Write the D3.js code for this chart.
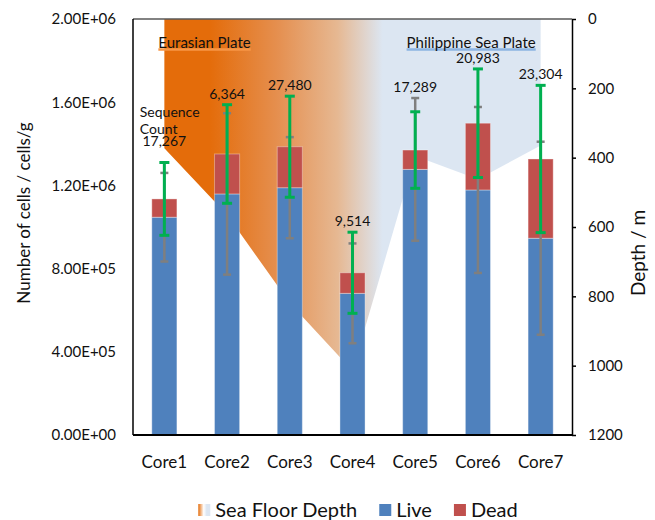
<!DOCTYPE html>
<html lang="en">
<head>
<meta charset="UTF-8">
<title>Cell counts and sea floor depth by core</title>
<script src="https://d3js.org/d3.v7.min.js"></script>
<style>
  body { margin: 0; background: #fff; font-family: Lato, "Open Sans", sans-serif; }
  text { fill: #111; }
</style>
</head>
<body>
<div id="chart"></div>
<script>
// values
const cores = ["Core1", "Core2", "Core3", "Core4", "Core5", "Core6", "Core7"];
const live = [1.047e6, 1.159e6, 1.189e6, 0.681e6, 1.277e6, 1.178e6, 0.946e6];
const dead = [0.088e6, 0.192e6, 0.197e6, 0.099e6, 0.093e6, 0.321e6, 0.381e6];
const liveErr = [213e3, 388e3, 243e3, 240e3, 343e3, 399e3, 464e3];   // grey bars, on live
const totalErr = [175e3, 237e3, 243e3, 195e3, 184e3, 261e3, 354e3];  // green bars, on live + dead
const seqCount = [17267, 6364, 27480, 9514, 17289, 20983, 23304];
const depth = [373, 565, 819, 1015, 395, 462, 365];                  // sea floor depth, m
const cellTicks = [0, 4e5, 8e5, 1.2e6, 1.6e6, 2e6];
const depthTicks = [0, 200, 400, 600, 800, 1000, 1200];

const width = 655, height = 520;
const margin = { top: 19, right: 83, bottom: 85, left: 133 };
const x0 = margin.left, x1 = width - margin.right, yTop = margin.top, yBot = height - margin.bottom;

const svg = d3.select("#chart").append("svg")
  .attr("width", width)
  .attr("height", height);

const defs = svg.append("defs");
const grad = defs.append("linearGradient").attr("id", "seaGrad");
grad.selectAll("stop")
  .data([[0, "#E46C0A"], [0.12, "#E46C0A"], [0.3, "#E58F4F"], [0.46, "#E6B892"], [0.58, "#DCE6F2"], [1, "#DCE6F2"]])
  .enter().append("stop")
  .attr("offset", d => d[0])
  .attr("stop-color", d => d[1]);

const x = d3.scaleBand().domain(cores).range([x0, x1]).paddingInner(0.6).paddingOuter(0.3);
const y = d3.scaleLinear().domain([0, 2e6]).range([yBot, yTop]);
const yDepth = d3.scaleLinear().domain([0, 1200]).range([yTop, yBot]);
const cx = c => x(c) + x.bandwidth() / 2;

const rows = cores.map((c, i) => ({
  core: c, live: live[i], dead: dead[i], total: live[i] + dead[i],
  liveErr: liveErr[i], totalErr: totalErr[i], seq: seqCount[i], depth: depth[i]
}));

// sea floor depth area (secondary axis, reversed)
const area = d3.area()
  .x(d => cx(d.core))
  .y0(yDepth(0))
  .y1(d => yDepth(d.depth));

svg.append("path")
  .datum(rows)
  .attr("d", area)
  .attr("fill", "url(#seaGrad)");

// plate labels
const plates = [
  { name: "Eurasian Plate", core: "Core1", color: "#F79646", anchor: "start" },
  { name: "Philippine Sea Plate", core: "Core7", color: "#8DB4E2", anchor: "end" }
];
plates.forEach(p => {
  const t = svg.append("text")
    .attr("x", p.anchor === "start" ? cx(p.core) - 6 : cx(p.core) - 5)
    .attr("y", 48)
    .attr("text-anchor", p.anchor)
    .style("font-size", "15px")
    .text(p.name);
  const b = t.node().getBBox();
  svg.insert("line", "text")
    .attr("x1", b.x).attr("x2", b.x + b.width)
    .attr("y1", 49.5).attr("y2", 49.5)
    .attr("stroke", p.color)
    .attr("stroke-width", 2.5);
});

// stacked bars
const bars = svg.append("g");
bars.selectAll(".live").data(rows).enter().append("rect")
  .attr("x", d => x(d.core))
  .attr("width", x.bandwidth())
  .attr("y", d => y(d.live))
  .attr("height", d => y(0) - y(d.live))
  .attr("fill", "#4F81BD");
bars.selectAll(".dead").data(rows).enter().append("rect")
  .attr("x", d => x(d.core))
  .attr("width", x.bandwidth())
  .attr("y", d => y(d.total))
  .attr("height", d => y(d.live) - y(d.total))
  .attr("fill", "#C0504D");
bars.selectAll("rect")
  .attr("stroke", "#fff")
  .attr("stroke-opacity", 0.35)
  .attr("stroke-width", 1);

// error bars
function errorBars(key, errKey, color, lw, cap) {
  const g = svg.append("g").attr("stroke", color);
  rows.forEach(d => {
    const hi = y(d[key] + d[errKey]), lo = y(d[key] - d[errKey]), c = cx(d.core);
    g.append("line").attr("x1", c).attr("x2", c).attr("y1", hi).attr("y2", lo).attr("stroke-width", lw);
    [hi, lo].forEach(v => g.append("line")
      .attr("x1", c - cap / 2).attr("x2", c + cap / 2)
      .attr("y1", v).attr("y2", v)
      .attr("stroke-width", lw));
  });
}
errorBars("live", "liveErr", "#7F7F7F", 2.5, 8);
errorBars("total", "totalErr", "#00B050", 3, 10);

// sequence count labels
const fmt = d3.format(",");
rows.forEach((d, i) => {
  const top = Math.min(y(d.total + d.totalErr), y(d.live + d.liveErr));
  const ly = top - 11 - (i === 0 ? 10 : 0);
  svg.append("text")
    .attr("x", cx(d.core))
    .attr("y", ly)
    .attr("dy", "0.35em")
    .attr("text-anchor", "middle")
    .style("font-size", "14px")
    .text(fmt(d.seq));
  if (i === 0) {
    ["Sequence", "Count"].forEach((w, k) => svg.append("text")
      .attr("x", x(d.core) - 12)
      .attr("y", ly - 29 + k * 17)
      .attr("dy", "0.35em")
      .style("font-size", "14px")
      .text(w));
  }
});

// frame
svg.append("line").attr("x1", x0).attr("x2", x1).attr("y1", yTop).attr("y2", yTop)
  .attr("stroke", "#595959").attr("stroke-width", 1.5);
svg.append("line").attr("x1", x0).attr("x2", x0).attr("y1", yTop).attr("y2", yBot)
  .attr("stroke", "#000").attr("stroke-width", 1.5);
svg.append("line").attr("x1", x0).attr("x2", x1).attr("y1", yBot).attr("y2", yBot)
  .attr("stroke", "#000").attr("stroke-width", 2);

// left axis
const sci = v => {
  const [m, e] = v.toExponential(2).split("e");
  const n = Math.abs(+e);
  return `${m}E${+e < 0 ? "-" : "+"}${n < 10 ? "0" + n : n}`;
};
const leftAxis = svg.append("g")
  .attr("transform", `translate(${x0},0)`)
  .call(d3.axisLeft(y).tickValues(cellTicks).tickFormat(sci).tickSize(0).tickPadding(17));
leftAxis.select(".domain").remove();
leftAxis.selectAll("text").style("font-size", "15px").style("font-family", "Lato");

// right axis
const rightAxis = svg.append("g")
  .attr("transform", `translate(${x1},0)`)
  .call(d3.axisRight(yDepth).tickValues(depthTicks).tickFormat(d3.format("d"))
    .tickSize(4).tickSizeOuter(0).tickPadding(12));
rightAxis.select(".domain").attr("stroke", "#000").attr("stroke-width", 1.5);
rightAxis.selectAll(".tick line").attr("stroke", "#000").attr("stroke-width", 1.5);
rightAxis.selectAll("text").style("font-size", "15px").style("font-family", "Lato");

// bottom axis
const bottomAxis = svg.append("g")
  .attr("transform", `translate(0,${yBot})`)
  .call(d3.axisBottom(x).tickSize(0).tickPadding(21));
bottomAxis.select(".domain").remove();
bottomAxis.selectAll("text").style("font-size", "17px").style("font-family", "Lato");

// axis titles
svg.append("text")
  .attr("transform", `translate(24,${(yTop + yBot) / 2 - 14}) rotate(-90)`)
  .attr("text-anchor", "middle")
  .attr("dy", "0.35em")
  .style("font-size", "17px")
  .text("Number of cells / cells/g");
svg.append("text")
  .attr("transform", `translate(638,253) rotate(-90)`)
  .attr("text-anchor", "middle")
  .attr("dy", "0.35em")
  .style("font-size", "19px")
  .text("Depth / m");

// legend
const legendItems = [
  { label: "Sea Floor Depth", fill: "url(#legGrad)" },
  { label: "Live", fill: "#4F81BD" },
  { label: "Dead", fill: "#C0504D" }
];
const legGrad = defs.append("linearGradient").attr("id", "legGrad");
legGrad.selectAll("stop")
  .data([[0, "#E46C0A"], [0.45, "#FFFFFF"], [0.7, "#DCE6F2"], [1, "#DCE6F2"]])
  .enter().append("stop")
  .attr("offset", d => d[0])
  .attr("stop-color", d => d[1]);

const legend = svg.append("g");
let lx = 0;
legendItems.forEach(it => {
  legend.append("rect")
    .attr("x", lx).attr("y", -6).attr("width", 12).attr("height", 12)
    .attr("fill", it.fill);
  const t = legend.append("text")
    .attr("x", lx + 17).attr("y", 0).attr("dy", "0.35em")
    .style("font-size", "20px")
    .text(it.label);
  lx += 17 + t.node().getComputedTextLength() + 22;
});
const legW = lx - 22;
legend.attr("transform", `translate(${358 - legW / 2},510)`);
</script>
</body>
</html>
